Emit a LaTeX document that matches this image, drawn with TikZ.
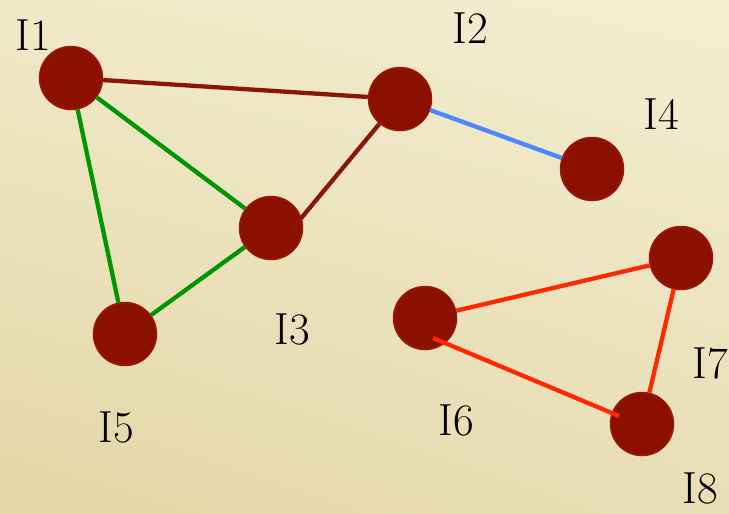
\documentclass[tikz,border=0pt]{standalone}
\usetikzlibrary{calc,shadings}
\definecolor{bgUL}{RGB}{240,233,200}
\definecolor{bgUR}{RGB}{243,238,210}
\definecolor{bgLL}{RGB}{227,213,166}
\definecolor{bgLR}{RGB}{233,222,182}
\definecolor{nodefill}{RGB}{139,16,0}
\definecolor{nodeline}{RGB}{155,26,5}
\definecolor{darkedge}{RGB}{140,22,5}
\definecolor{greenedge}{RGB}{0,150,0}
\definecolor{blueedge}{RGB}{75,135,255}
\definecolor{rededge}{RGB}{255,40,0}
\tikzset{
  vertex/.style={circle, fill=nodefill, draw=nodeline, line width=1.5pt, minimum size=63pt, inner sep=0pt},
  lbl/.style={font=\fontsize{45}{45}\selectfont, inner sep=0pt, text=black},
  edgebase/.style={line width=4.3pt},
  darkline/.style={edgebase, draw=darkedge},
  greenline/.style={edgebase, draw=greenedge},
  blueline/.style={edgebase, draw=blueedge},
  redline/.style={edgebase, draw=rededge}
}
\begin{document}
\begin{tikzpicture}[x=1pt,y=-1pt]
\useasboundingbox (0,0) rectangle (729,514);
\shade[upper left=bgUL, upper right=bgUR, lower left=bgLL, lower right=bgLR] (0,0) rectangle (729,514);

% nodes
\node[vertex] (I1) at (71,78) {};
\node[vertex] (I2) at (400,99) {};
\node[vertex] (I3) at (271,228) {};
\node[vertex] (I4) at (592,169) {};
\node[vertex] (I5) at (125,334) {};
\node[vertex] (I6) at (425,318) {};
\node[vertex] (I7) at (681,258) {};
\node[vertex] (I8) at (642,424) {};

% edges (drawn from border to border)
\draw[darkline] (I1) -- (I2);
\draw[blueline] (I2) -- (I4);
\draw[greenline] (I1) -- (I3);
\draw[greenline] (I1) -- (I5);
\draw[greenline] (I3) -- (I5);
\draw[redline] (I6) -- (I7);
\draw[redline] (I7) -- (I8);

% edges that run onto the circles
\coordinate (e23) at ($(I3.center)+(22,0)$);
\draw[darkline] (I2) -- (e23);
\coordinate (e68a) at ($(I6.center)+(8,20)$);
\coordinate (e68b) at ($(I8.center)+(-23,-8)$);
\draw[redline] (e68a) -- (e68b);

% labels
\node[lbl] (L1) at (33,35) {I1};
\node[lbl] (L2) at (470,28) {I2};
\node[lbl] (L3) at (292,329) {I3};
\node[lbl] (L4) at (661,114) {I4};
\node[lbl] (L5) at (116,427) {I5};
\node[lbl] (L6) at (456,420) {I6};
\node[lbl] (L7) at (710,363) {I7};
\node[lbl] (L8) at (700,488) {I8};
\end{tikzpicture}
\end{document}
